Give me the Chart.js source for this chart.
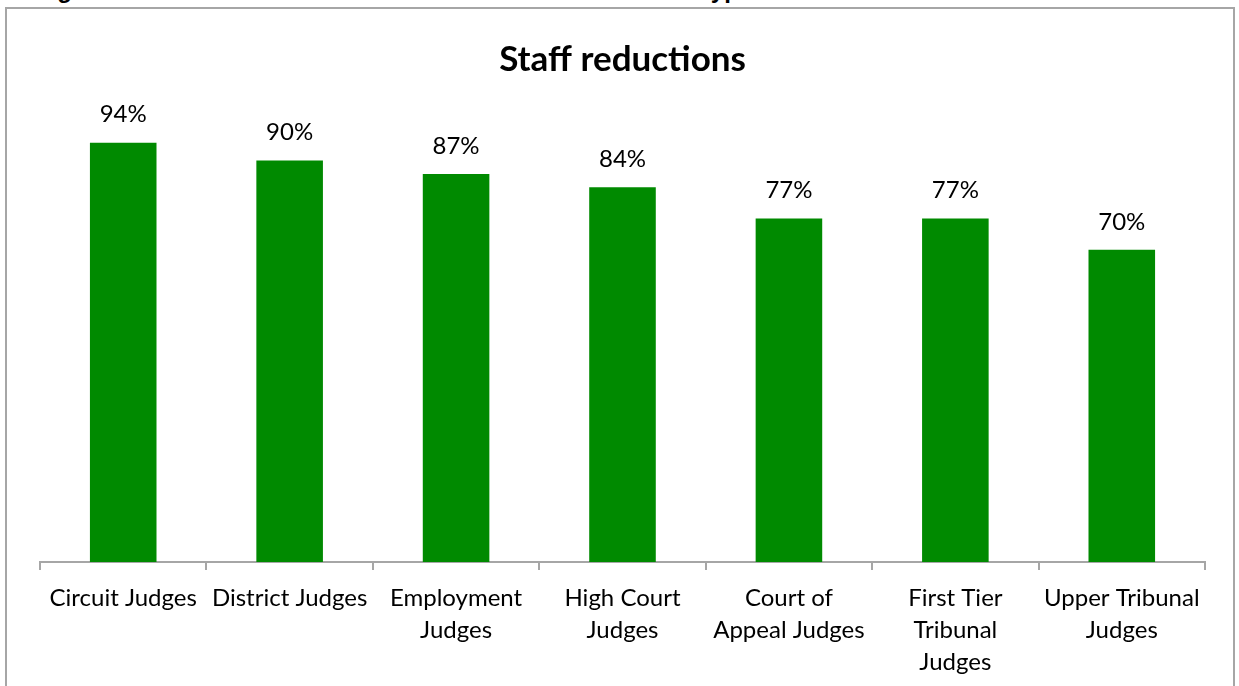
<!DOCTYPE html>
<html>
<head>
<meta charset="utf-8">
<script src="https://cdn.jsdelivr.net/npm/chart.js@4.4.1/dist/chart.umd.min.js"></script>
<style>
  html, body { margin: 0; padding: 0; background: #fff; overflow: hidden; }
  #caption {
    position: absolute; left: 36px; top: -24px; line-height: 27px; white-space: nowrap;
    font: bold 24px "Liberation Sans", Arial, sans-serif; color: #000;
  }
  #frame {
    position: absolute; left: 5px; top: 7px; width: 1230px; height: 700px;
    border: 2px solid #a6a6a6; box-sizing: border-box;
  }
  #wrap { position: absolute; left: 0; top: 0; width: 1239px; height: 686px; }
</style>
</head>
<body>
<div id="caption">Figure 10: Staff reductions were noted across all the main types of office</div>
<div id="frame"></div>
<div id="wrap"><canvas id="chart1"></canvas></div>
<script>
const categories = [
  "Circuit Judges",
  "District Judges",
  ["Employment", "Judges"],
  ["High Court", "Judges"],
  ["Court of", "Appeal Judges"],
  ["First Tier", "Tribunal", "Judges"],
  ["Upper Tribunal", "Judges"],
];
const staffReductions = [94, 90, 87, 84, 77, 77, 70];

// value labels above each bar
const barLabels = {
  id: "barLabels",
  afterDatasetsDraw(chart) {
    const ctx = chart.ctx;
    const meta = chart.getDatasetMeta(0);
    ctx.save();
    ctx.font = '24px Lato, "Open Sans", sans-serif';
    ctx.fillStyle = "#000";
    ctx.textAlign = "center";
    ctx.textBaseline = "middle";
    meta.data.forEach((bar, i) => {
      ctx.fillText(staffReductions[i] + "%", bar.x, bar.y - 28);
    });
    ctx.restore();
  },
};

const ctx1 = document.getElementById("chart1").getContext("2d");
const chart1 = new Chart(ctx1, {
  type: "bar",
  data: {
    labels: categories,
    datasets: [
      {
        label: "Staff reductions",
        data: staffReductions,
        backgroundColor: "#008a00",
        borderWidth: 0,
        barPercentage: 0.4,
        categoryPercentage: 1,
      },
    ],
  },
  options: {
    responsive: true,
    maintainAspectRatio: false,
    animation: false,
    layout: { padding: { left: 40, right: 34, top: 0, bottom: 0 } },
    plugins: {
      legend: { display: false },
      tooltip: { enabled: false },
      title: {
        display: true,
        text: "Staff reductions",
        color: "#000",
        font: { family: "Lato, 'Open Sans', sans-serif", size: 35, weight: "bold", lineHeight: 1.2 },
        padding: { top: 39, bottom: 35 },
      },
    },
    scales: {
      x: {
        grid: {
          offset: true,
          drawOnChartArea: false,
          drawTicks: true,
          tickLength: 8,
          color: "#a6a6a6",
          lineWidth: 2,
        },
        border: { display: true, color: "#a6a6a6", width: 2 },
        ticks: {
          color: "#000",
          padding: 12,
          maxRotation: 0,
          autoSkip: false,
          font: { family: "Lato, 'Open Sans', sans-serif", size: 24, lineHeight: 1.34 },
        },
        afterFit: (axis) => {
          axis.height = 124;
        },
      },
      y: {
        display: false,
        min: 0,
        max: 100,
      },
    },
  },
  plugins: [barLabels],
});
</script>
</body>
</html>
